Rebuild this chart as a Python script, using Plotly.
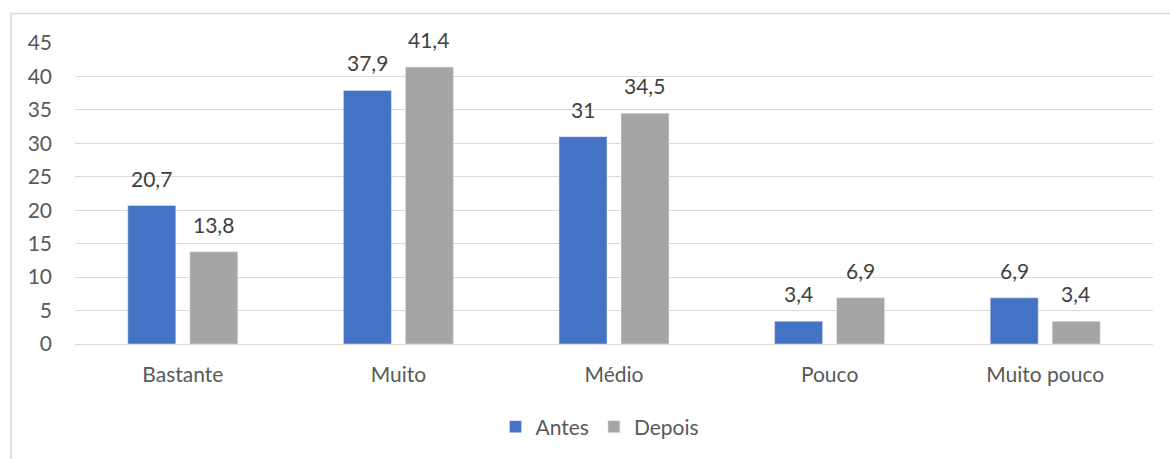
import plotly.graph_objects as go

categorias = ["Bastante", "Muito", "Médio", "Pouco", "Muito pouco"]
antes = [20.7, 37.9, 31, 3.4, 6.9]
depois = [13.8, 41.4, 34.5, 6.9, 3.4]
ticks_y = [0, 5, 10, 15, 20, 25, 30, 35, 40, 45]

AZUL = "#4472C4"
CINZA = "#A5A5A5"
TEXTO = "#595959"
ROTULO = "#404040"
GRADE = "#D9D9D9"
FONTE = "Lato, Calibri, Noto Sans, sans-serif"


def rotulo(v):
    return f"{v:g}".replace(".", ",")


fig = go.Figure()
fig.add_trace(go.Bar(name="Antes", x=categorias, y=antes, marker_color=AZUL))
fig.add_trace(go.Bar(name="Depois", x=categorias, y=depois, marker_color=CINZA))

# value labels above each bar of the group (left bar: Antes, right bar: Depois)
anot = []
for serie, desloc in ((antes, -31), (depois, 30.5)):
    for c, v in zip(categorias, serie):
        anot.append(dict(
            x=c, y=v, xref="x", yref="y", text=rotulo(v), showarrow=False,
            xshift=desloc, yshift=13, yanchor="bottom",
            font=dict(size=21, color=ROTULO, family=FONTE),
        ))

L, R, T, B = 75, 17, 43, 115
W, H = 1170, 459
pw, ph = W - L - R, H - T - B

fig.update_layout(
    width=W, height=H,
    margin=dict(l=L, r=R, t=T, b=B),
    paper_bgcolor="white", plot_bgcolor="white",
    barmode="group", bargap=0.425, bargroupgap=0.226,
    font=dict(family=FONTE, size=21, color=TEXTO),
    showlegend=True,
    legend=dict(orientation="h", x=0.5 - 14 / pw, xanchor="center",
                y=(ph - (427 - T)) / ph, yanchor="middle",
                font=dict(size=21, color=TEXTO), itemwidth=30,
                traceorder="normal"),
    xaxis=dict(showgrid=False, showline=False, zeroline=False,
               ticks="", ticklabelstandoff=16,
               tickfont=dict(size=21, color=TEXTO)),
    yaxis=dict(range=[0, 45], tickvals=ticks_y, showgrid=True,
               gridcolor=GRADE, gridwidth=1.3, zeroline=True,
               zerolinecolor=GRADE, zerolinewidth=1.3, showline=False,
               ticks="", ticklabelstandoff=22,
               tickfont=dict(size=21, color=TEXTO)),
    annotations=anot,
    shapes=[dict(
        type="rect", xref="paper", yref="paper",
        x0=(11 - L) / pw, x1=(W + 20 - L) / pw,
        y0=-(H + 20 - T - ph) / ph, y1=(ph + T - 13.5) / ph,
        line=dict(color=GRADE, width=1.5), fillcolor="rgba(0,0,0,0)",
        layer="below",
    )],
)

fig.write_html("out.html")
